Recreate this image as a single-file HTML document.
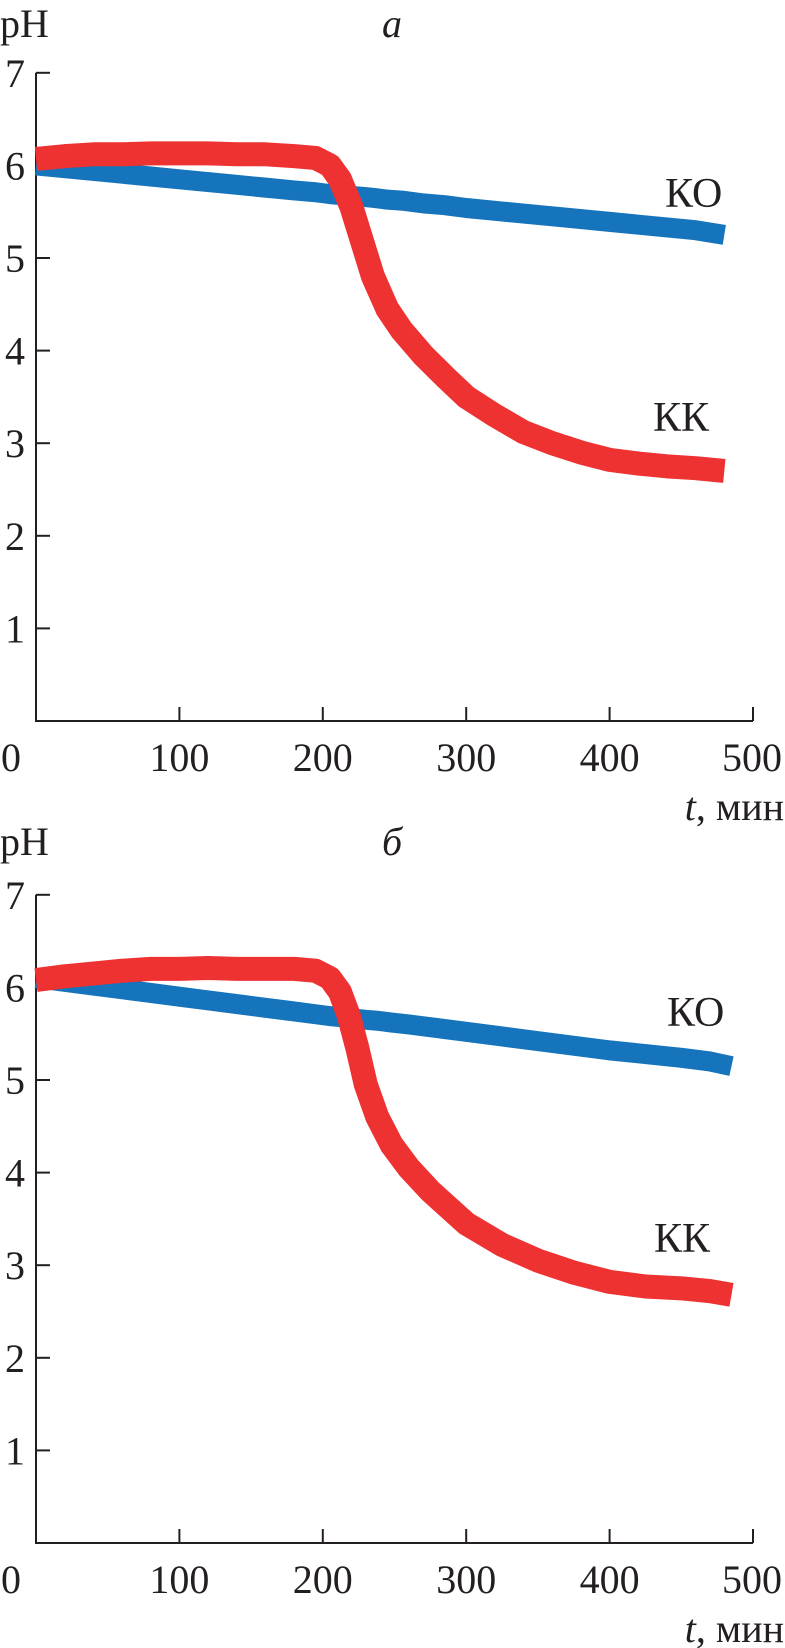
<!DOCTYPE html>
<html><head><meta charset="utf-8"><style>
body{margin:0;background:#fff}
svg{display:block}
text{font-family:"Liberation Serif",serif;fill:#231f20}
</style></head><body>
<svg id="chart" width="785" height="1648" viewBox="0 0 785 1648"></svg>
<script>
const xTicks=[0,100,200,300,400,500];
const yTicks=[1,2,3,4,5,6,7];
const tA=[0,20,40,60,80,100,120,140,160,180,195,205,212,220,228,235,245,255,270,285,300,320,340,360,380,400,420,440,460,480];
const koA=[6.0,5.97,5.94,5.91,5.88,5.85,5.82,5.79,5.76,5.73,5.71,5.69,5.68,5.67,5.66,5.65,5.63,5.62,5.59,5.57,5.54,5.51,5.48,5.45,5.42,5.39,5.36,5.33,5.30,5.25];
const kkA=[6.07,6.1,6.12,6.12,6.13,6.13,6.13,6.12,6.12,6.1,6.08,6.0,5.85,5.55,5.15,4.8,4.45,4.22,3.95,3.72,3.5,3.3,3.12,3.0,2.9,2.82,2.78,2.75,2.73,2.7];
const tB=[0,20,40,60,80,100,120,140,160,180,195,205,212,218,224,230,238,248,260,275,300,325,350,375,400,425,450,470,485];
const koB=[6.1,6.06,6.02,5.98,5.94,5.9,5.86,5.82,5.78,5.74,5.71,5.69,5.68,5.67,5.66,5.65,5.64,5.62,5.6,5.57,5.52,5.47,5.42,5.37,5.32,5.28,5.24,5.2,5.15];
const kkB=[6.08,6.12,6.15,6.18,6.2,6.2,6.21,6.2,6.2,6.2,6.18,6.1,5.95,5.7,5.35,4.95,4.6,4.3,4.05,3.8,3.45,3.22,3.05,2.92,2.82,2.77,2.75,2.72,2.68];
const NS='http://www.w3.org/2000/svg';
const svg=document.getElementById('chart');
function mk(tag,attrs,parent){const e=document.createElementNS(NS,tag);for(const k in attrs)e.setAttribute(k,attrs[k]);(parent||svg).appendChild(e);return e;}
function panel(id,top0,zeroY,ts,ko,kk,letter,koPos,kkPos){
  const g=mk('g',{});
  
  
  const x0=36,xs=143.4/100,ys=92.6;
  const X=v=>x0+v*xs, Y=v=>zeroY-v*ys;
  const ax=mk('path',{d:`M${X(0)} ${Y(7)} L${X(0)} ${Y(0)} L${X(500)} ${Y(0)}`,stroke:'#231f20','stroke-width':2,fill:'none'},g);
  
  
  yTicks.forEach(v=>{
    const t=mk('line',{x1:X(0),x2:X(0)+14,y1:Y(v),y2:Y(v),stroke:'#231f20','stroke-width':2},g);
    
    
    const l=mk('text',{x:15,y:Y(v)+14,'font-size':40,'text-anchor':'middle'},g);l.textContent=v;
    
    
  });
  xTicks.forEach(v=>{
    if(v>0){const t=mk('line',{x1:X(v),x2:X(v),y1:Y(0),y2:Y(0)-14,stroke:'#231f20','stroke-width':2},g);
    
    }
    const l=mk('text',{x:v===0?11:(v===500?752:X(v)),y:Y(0)+50,'font-size':40,'text-anchor':'middle'},g);l.textContent=v;
    
    
  });
  const ph=mk('text',{x:0,y:top0,'font-size':40},g);ph.textContent='pH';
  
  
  const lt=mk('text',{x:392,y:top0,'font-size':40,'font-style':'italic','text-anchor':'middle'},g);lt.textContent=letter;
  
  
  const xt=mk('text',{x:784,y:Y(0)+99,'font-size':40,'text-anchor':'end'},g);
  xt.innerHTML='<tspan font-style="italic">t</tspan>, мин';
  
  
  const pk=mk('polyline',{points:ts.map((t,i)=>X(t)+','+Y(ko[i])).join(' '),stroke:'#1574bb','stroke-width':20,fill:'none','stroke-linejoin':'round'},g);
  
  
  const pr=mk('polyline',{points:ts.map((t,i)=>X(t)+','+Y(kk[i])).join(' '),stroke:'#ee3131','stroke-width':24,fill:'none','stroke-linejoin':'round'},g);
  
  
  const a=mk('text',{x:koPos[0],y:koPos[1],'font-size':42},g);a.textContent='КО';
  
  
  const b=mk('text',{x:kkPos[0],y:kkPos[1],'font-size':42},g);b.textContent='КК';
  
  
}
panel('a',37,721,tA,koA,kkA,'а',[665,207],[653,431]);
panel('b',855,1543,tB,koB,kkB,'б',[667,1026],[654,1252]);
</script>
</body></html>
